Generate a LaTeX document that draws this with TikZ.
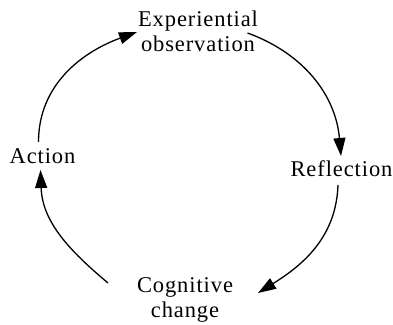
\documentclass[tikz,border=0pt]{standalone}
\usepackage{fontspec}
\setmainfont{Liberation Serif}[LetterSpace=4]
\usetikzlibrary{arrows.meta}
\begin{document}
\begin{tikzpicture}[x=1pt,y=1pt,
    lbl/.style={inner sep=0pt, align=center, font=\fontsize{22.5}{25}\selectfont},
    cyc/.style={line width=1.3pt, -{Triangle[length=18pt,width=12pt]}}]
  \useasboundingbox (0,0) rectangle (393,324);
  % stage labels (base anchor sits on the last line's baseline)
  \node[lbl, anchor=base] (exp) at (198,272) {Experiential\\observation};
  \node[lbl, anchor=base] (ref) at (341.5,147) {Reflection};
  \node[lbl, anchor=base] (cog) at (185,7) {Cognitive\\change};
  \node[lbl, anchor=base] (act) at (42.5,160) {Action};
  % named ends of the cycle arrows
  \coordinate (a1) at (38.5,182);
  \coordinate (e1) at (137,292);
  \coordinate (e2) at (247.5,291);
  \coordinate (r1) at (341,168);
  \coordinate (r2) at (338,139);
  \coordinate (c1) at (258,31);
  \coordinate (c2) at (108,41);
  \coordinate (a2) at (40.5,154);
  % the cycle
  \draw[cyc] (a1) to[out=90,in=200] (e1);
  \draw[cyc] (e2) to[out=-20,in=95] (r1);
  \draw[cyc] (r2) to[out=-92,in=32] (c1);
  \draw[cyc] (c2) to[out=140,in=-88] (a2);
\end{tikzpicture}
\end{document}
